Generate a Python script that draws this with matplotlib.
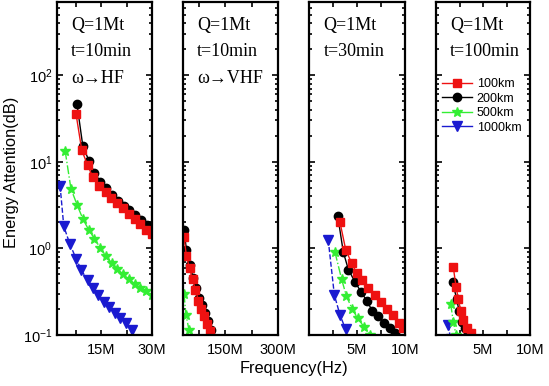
import matplotlib
matplotlib.use("Agg")
import matplotlib.pyplot as plt
from matplotlib.ticker import LogLocator, NullFormatter
from matplotlib.lines import Line2D

# ---------------- data (frequency in MHz, attenuation in dB) ----------------
# Panel 1: HF, t=10min
p1_f_100 = [7.6, 9.3, 11.0, 12.5, 14.5, 16.4, 17.9, 19.7, 21.5, 23.2, 24.9, 26.6, 28.3, 30.0]
p1_v_100 = [35.9, 13.6, 9.2, 6.7, 5.3, 4.5, 3.8, 3.3, 2.9, 2.5, 2.2, 1.9, 1.65, 1.45]
p1_f_200 = [7.9, 9.6, 11.4, 13.0, 14.8, 16.5, 18.3, 19.9, 21.6, 23.3, 25.0, 26.7, 28.4, 30.0]
p1_v_200 = [46.0, 15.3, 10.3, 7.5, 5.9, 5.0, 4.1, 3.56, 3.05, 2.75, 2.4, 2.1, 1.85, 1.6]
p1_f_500 = [4.4, 6.1, 7.9, 9.6, 11.3, 13.0, 14.7, 16.4, 18.1, 19.8, 21.5, 23.2, 24.9, 26.6, 28.3, 30.0]
p1_v_500 = [13.4, 4.9, 3.2, 2.2, 1.65, 1.3, 1.02, 0.82, 0.68, 0.58, 0.50, 0.44, 0.39, 0.35, 0.32, 0.29]
p1_f_1000 = [2.9, 4.0, 5.8, 7.7, 9.2, 11.0, 12.6, 14.1, 15.9, 17.3, 19.0, 20.5, 22.3, 24.0]
p1_v_1000 = [5.3, 1.8, 1.12, 0.75, 0.56, 0.43, 0.35, 0.29, 0.24, 0.21, 0.178, 0.156, 0.136, 0.114]

# Panel 2: VHF, t=10min
p2_f_100 = [32.8, 39.9, 48.5, 57.0, 65.5, 74.0, 82.5, 91.0, 99.6, 106.8]
p2_v_100 = [1.34, 0.81, 0.59, 0.44, 0.33, 0.25, 0.20, 0.165, 0.134, 0.111]
p2_f_200 = [32.8, 39.9, 49.9, 58.4, 66.9, 75.5, 84.0, 92.5, 101.0, 109.5]
p2_v_200 = [1.65, 0.95, 0.65, 0.46, 0.35, 0.27, 0.22, 0.18, 0.145, 0.114]
p2_f_500 = [32.8, 38.5, 47.0]
p2_v_500 = [0.30, 0.17, 0.115]

# Panel 3: t=30min
p3_f_100 = [3.23, 3.82, 4.45, 4.96, 5.55, 6.18, 6.9, 7.5, 8.15, 8.8, 9.4, 9.8]
p3_v_100 = [2.0, 0.97, 0.67, 0.52, 0.43, 0.35, 0.29, 0.24, 0.20, 0.17, 0.138, 0.12]
p3_f_200 = [2.99, 3.57, 4.1, 4.79, 5.42, 6.0, 6.6, 7.2, 7.8, 8.4, 8.96]
p3_v_200 = [2.39, 0.91, 0.57, 0.41, 0.315, 0.25, 0.19, 0.165, 0.138, 0.119, 0.105]
p3_f_500 = [2.7, 3.4, 3.9, 4.5, 5.07, 5.76, 6.35]
p3_v_500 = [0.91, 0.44, 0.28, 0.20, 0.156, 0.123, 0.1]
p3_f_1000 = [2.0, 2.64, 3.23, 3.82]
p3_v_1000 = [1.26, 0.29, 0.17, 0.116]

# Panel 4: t=100min
p4_f_100 = [1.84, 2.13, 2.38, 2.63, 2.9, 3.27, 3.69]
p4_v_100 = [0.61, 0.36, 0.26, 0.19, 0.149, 0.119, 0.105]
p4_f_200 = [1.77, 2.2, 2.45, 2.73, 3.08, 3.44]
p4_v_200 = [0.41, 0.26, 0.19, 0.142, 0.119, 0.105]
p4_f_500 = [1.56, 1.84, 2.13]
p4_v_500 = [0.23, 0.142, 0.1]
p4_f_1000 = [1.31, 1.55]
p4_v_1000 = [0.13, 0.09]

legend_labels = ["100km", "200km", "500km", "1000km"]
panel_texts = [["Q=1Mt", "t=10min", "ω→HF"],
               ["Q=1Mt", "t=10min", "ω→VHF"],
               ["Q=1Mt", "t=30min"],
               ["Q=1Mt", "t=100min"]]
xlims = [(2, 30), (30, 300), (0, 10), (0, 10)]
xticks = [[7.5, 15, 22.5, 30], [75, 150, 225, 300], [2.5, 5, 7.5, 10], [2.5, 5, 7.5, 10]]
xticklabels = [["", "15M", "", "30M"], ["", "150M", "", "300M"],
               ["", "5M", "", "10M"], ["", "5M", "", "10M"]]

styles = [
    dict(color="#ee1111", marker="s", ls="-", ms=5.5),
    dict(color="black", marker="o", ls="-", ms=6),
    dict(color="#33ee33", marker="*", ls="-.", ms=7.5),
    dict(color="#1a1ad0", marker="v", ls="--", ms=6.5),
]

panels = [
    [(p1_f_100, p1_v_100), (p1_f_200, p1_v_200), (p1_f_500, p1_v_500), (p1_f_1000, p1_v_1000)],
    [(p2_f_100, p2_v_100), (p2_f_200, p2_v_200), (p2_f_500, p2_v_500), None],
    [(p3_f_100, p3_v_100), (p3_f_200, p3_v_200), (p3_f_500, p3_v_500), (p3_f_1000, p3_v_1000)],
    [(p4_f_100, p4_v_100), (p4_f_200, p4_v_200), (p4_f_500, p4_v_500), (p4_f_1000, p4_v_1000)],
]

plt.rcParams["font.family"] = ["Liberation Sans", "DejaVu Sans"]
fig = plt.figure(figsize=(5.49, 3.86), dpi=100)

lefts = [57, 183, 309, 436]
rights = [152, 278, 405, 530]
W, H = 549.0, 386.0
bottom_px, top_px = 335, 2

for i in range(4):
    ax = fig.add_axes([lefts[i] / W, 1 - bottom_px / H,
                       (rights[i] - lefts[i]) / W, (bottom_px - top_px) / H])
    for k in [3, 2, 1, 0]:
        d = panels[i][k]
        if d is None:
            continue
        st = styles[k]
        ax.plot(d[0], d[1], color=st["color"], marker=st["marker"], ls=st["ls"],
                ms=st["ms"], lw=1.0, mec=st["color"])
    ax.set_yscale("log")
    ax.set_ylim(0.1, 700)
    ax.set_xlim(*xlims[i])
    ax.set_xticks(xticks[i])
    ax.set_xticklabels(xticklabels[i], fontsize=10.5)
    ax.yaxis.set_major_locator(LogLocator(base=10, numticks=10))
    ax.yaxis.set_minor_locator(LogLocator(base=10, subs=range(2, 10), numticks=20))
    ax.yaxis.set_minor_formatter(NullFormatter())
    ax.tick_params(which="both", direction="in", top=True, right=True, width=1.2)
    ax.tick_params(which="major", length=4.5)
    ax.tick_params(which="minor", length=2.5)
    ax.tick_params(axis="x", which="major", length=3.5, pad=6)
    for sp in ax.spines.values():
        sp.set_linewidth(1.6)
    if i > 0:
        ax.set_yticklabels([])
    else:
        ax.tick_params(axis="y", labelsize=10.5)
    for j, t in enumerate(panel_texts[i]):
        ax.text(0.15, 0.93 - j * 0.08, t, transform=ax.transAxes,
                family="Liberation Serif", fontsize=13, va="center", ha="left")
    if i == 3:
        hs = [Line2D([], [], color=styles[k]["color"], marker=styles[k]["marker"],
                     ms=styles[k]["ms"], lw=1.0) for k in range(4)]
        ax.legend(hs, legend_labels, loc="upper left", bbox_to_anchor=(0.0, 0.79),
                  frameon=False, fontsize=9, handlelength=2.4, handletextpad=0.35,
                  labelspacing=0.2, borderaxespad=0.1)

fig.text(12 / W, 1 - 172 / H, "Energy Attention(dB)", rotation=90,
         ha="center", va="center", fontsize=11.8)
fig.text(294 / W, 1 - 368 / H, "Frequency(Hz)", ha="center", va="center", fontsize=11.8)

fig.savefig("out.png", dpi=100)
